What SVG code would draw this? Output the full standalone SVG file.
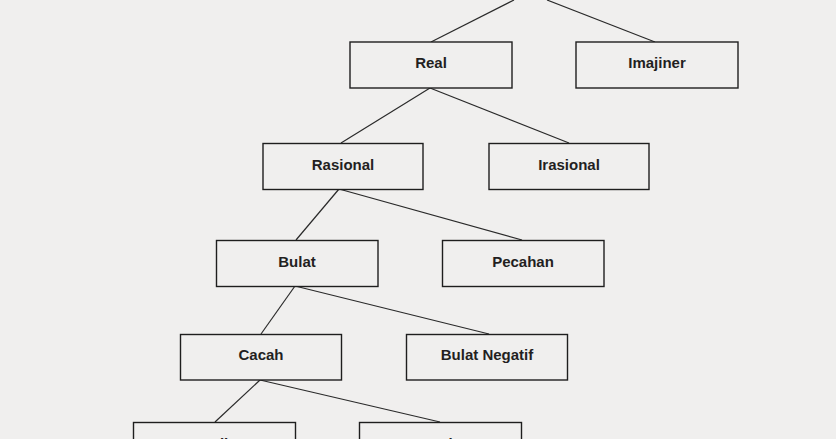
<svg xmlns="http://www.w3.org/2000/svg" width="836" height="439" viewBox="0 0 836 439">
<style>
.box{fill:#f0efee;stroke:#1e1e1e;stroke-width:1.4}
.lbl{font-family:"Liberation Sans",Arial,sans-serif;font-weight:bold;font-size:15px;fill:#231f1f;text-anchor:middle}
.conn line{stroke:#2a2a2a;stroke-width:1.2}
</style>
<rect width="836" height="439" fill="#f0efee"/>
<g id="connectors" class="conn">
<line x1="514" y1="0" x2="431" y2="42"/>
<line x1="547" y1="0" x2="655" y2="42"/>
<line x1="430" y1="88" x2="341" y2="143"/>
<line x1="430" y1="88" x2="569" y2="143"/>
<line x1="339" y1="189" x2="296" y2="240"/>
<line x1="339" y1="189" x2="522" y2="240"/>
<line x1="295" y1="286" x2="261" y2="334"/>
<line x1="295" y1="286" x2="489" y2="334"/>
<line x1="260" y1="380" x2="215" y2="422"/>
<line x1="260" y1="380" x2="440" y2="422"/>
</g>
<g id="real"><rect class="box" x="350" y="42" width="162" height="46"/><text class="lbl" x="431" y="68">Real</text></g>
<g id="imajiner"><rect class="box" x="576" y="42" width="162" height="46"/><text class="lbl" x="657" y="68">Imajiner</text></g>
<g id="rasional"><rect class="box" x="263" y="143.5" width="160" height="46"/><text class="lbl" x="343" y="169.5">Rasional</text></g>
<g id="irasional"><rect class="box" x="489" y="143.5" width="160" height="46"/><text class="lbl" x="569" y="169.5">Irasional</text></g>
<g id="bulat"><rect class="box" x="216.5" y="240.5" width="161.5" height="46"/><text class="lbl" x="297" y="266.5">Bulat</text></g>
<g id="pecahan"><rect class="box" x="442.5" y="240.5" width="161.5" height="46"/><text class="lbl" x="523" y="266.5">Pecahan</text></g>
<g id="cacah"><rect class="box" x="180.5" y="334.5" width="161" height="45.5"/><text class="lbl" x="261" y="360">Cacah</text></g>
<g id="bulat-negatif"><rect class="box" x="406.5" y="334.5" width="161" height="45.5"/><text class="lbl" x="487" y="360">Bulat Negatif</text></g>
<g id="asli"><rect class="box" x="133.5" y="422.5" width="162" height="46"/><text class="lbl" x="214.5" y="448.5">Asli</text></g>
<g id="nol"><rect class="box" x="359.5" y="422.5" width="162" height="46"/><text class="lbl" x="440.5" y="448.5">Nol</text></g>
</svg>
